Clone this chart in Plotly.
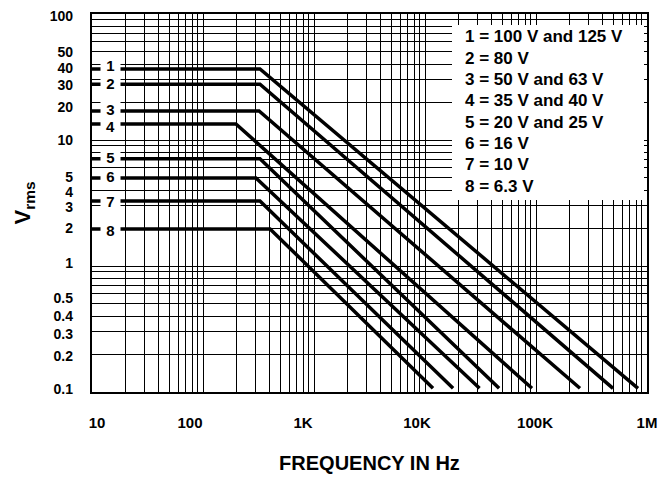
import math
import plotly.graph_objects as go

# ---- data ----
curve_labels = ["1", "2", "3", "4", "5", "6", "7", "8"]
v_flat = [36.6, 27.7, 17.0, 13.4, 7.1, 5.0, 3.28, 1.97]          # Vrms plateau
f_start = [10, 10, 10, 10, 10, 10, 10, 10]                      # Hz
f_corner = [326, 326, 320, 198, 326, 300, 326, 402]             # Hz
f_end = [830e3, 494e3, 249e3, 92e3, 46.5e3, 31e3, 17.9e3, 11.8e3]  # Hz
v_end = [0.107, 0.107, 0.107, 0.107, 0.107, 0.107, 0.107, 0.107]

legend_lines = [
    "1 = 100 V and 125 V",
    "2 = 80 V",
    "3 = 50 V and 63 V",
    "4 = 35 V and 40 V",
    "5 = 20 V and 25 V",
    "6 = 16 V",
    "7 = 10 V",
    "8 = 6.3 V",
]

# tick labels and where the reference prints them
x_label_text = ["10", "100", "1K", "10K", "100K", "1M"]
x_label_pos = [11.1, 76.4, 796, 8470, 98000, 1e6]
y_label_text = ["100", "50", "40", "30", "20", "10", "5", "4", "3", "2",
                "1", "0.5", "0.4", "0.3", "0.2", "0.1"]
y_label_pos = [96, 50, 37.3, 27.3, 18.3, 10, 5.08, 3.86, 2.94, 2.0,
               1.05, 0.56, 0.40, 0.29, 0.194, 0.1056]

# log-paper grid values (1..9 in each decade)
x_decades = [10, 100, 1e3, 1e4, 1e5]
y_decades = [0.1, 1, 10]
x_grid = [d * k for d in x_decades for k in range(1, 10)] + [1e6]
y_grid = [round(d * k, 6) for d in y_decades for k in range(1, 10)] + [100]

FONT = "Liberation Sans, Arial, Helvetica, sans-serif"

# page body has an 8px margin -> figure is shifted; compensate
W, H = 664, 469
ML, MR, MT, MB = 84, 25, 6, 85
PW = W - ML - MR
PH = H - MT - MB

fig = go.Figure()
for i in range(len(curve_labels)):
    fig.add_trace(go.Scatter(
        x=[f_start[i], f_corner[i], f_end[i]],
        y=[v_flat[i], v_flat[i], v_end[i]],
        mode="lines",
        line=dict(color="black", width=3.5),
        hoverinfo="skip",
        showlegend=False,
    ))
# invisible trace to bind the label axes
fig.add_trace(go.Scatter(x=[100], y=[1], xaxis="x2", yaxis="y2", mode="markers",
                         marker=dict(opacity=0), hoverinfo="skip", showlegend=False))


def px_x(px):
    return (px - 92) / PW


def px_y(py):
    return (392 - py) / PH


# white box for the key (covers grid lines)
fig.add_shape(type="rect", xref="paper", yref="paper",
              x0=px_x(452), x1=px_x(644), y0=px_y(200), y1=px_y(25),
              fillcolor="white", line=dict(width=0), layer="above")

label_nudge = [4, 1, 1, -3, 1, 1, 0, -2]   # small vertical nudges (px) as in the reference
annotations = []
for i, lab in enumerate(curve_labels):
    annotations.append(dict(
        x=px_x(110), xref="paper", y=math.log10(v_flat[i]), yref="y",
        yshift=label_nudge[i],
        text="<b>%s</b>" % lab, showarrow=False,
        font=dict(family=FONT, size=15, color="black"),
        bgcolor="white", width=17, height=13, align="center",
        xanchor="center", yanchor="middle",
    ))

y0_px = 37.0
for j, txt in enumerate(legend_lines):
    ypx = y0_px + j * 21.3
    annotations.append(dict(
        x=px_x(463), xref="paper",
        y=px_y(ypx), yref="paper",
        text="<b>%s</b>" % txt, showarrow=False,
        font=dict(family=FONT, size=17, color="black"),
        xanchor="left", yanchor="middle",
    ))

fig.update_layout(
    width=W, height=H,
    margin=dict(l=ML, r=MR, t=MT, b=MB),
    paper_bgcolor="white", plot_bgcolor="white",
    font=dict(family=FONT, color="black"),
    annotations=annotations,
    showlegend=False,
    xaxis=dict(
        type="log", range=[1, 6],
        tickmode="array", tickvals=x_grid, showticklabels=False,
        showgrid=True, gridcolor="black", gridwidth=1,
        showline=True, linecolor="black", linewidth=1.5, mirror=True,
        ticks="", zeroline=False, automargin=False,
    ),
    yaxis=dict(
        type="log", range=[-1, 2],
        tickmode="array", tickvals=y_grid, showticklabels=False,
        showgrid=True, gridcolor="black", gridwidth=1,
        showline=True, linecolor="black", linewidth=1.5, mirror=True,
        ticks="", zeroline=False, automargin=False,
    ),
    xaxis2=dict(
        type="log", range=[1, 6], overlaying="x", side="bottom",
        tickmode="array", tickvals=x_label_pos, ticktext=x_label_text,
        showgrid=False, showline=False, zeroline=False, ticks="",
        ticklabelstandoff=20, automargin=False, ticklabeloverflow="allow",
        tickfont=dict(family=FONT, size=15, color="black", weight="bold"),
        title=dict(text="<b>FREQUENCY IN Hz</b>",
                   font=dict(family=FONT, size=20, color="black"), standoff=25),
    ),
    yaxis2=dict(
        type="log", range=[-1, 2], overlaying="y", side="left",
        tickmode="array", tickvals=y_label_pos, ticktext=y_label_text,
        showgrid=False, showline=False, zeroline=False, ticks="",
        ticklabelstandoff=18, automargin=False, ticklabeloverflow="allow",
        tickfont=dict(family=FONT, size=14, color="black", weight="bold"),
        title=dict(text="<b>V<sub>rms</sub></b>",
                   font=dict(family=FONT, size=22, color="black"), standoff=12),
    ),
)

fig.write_html("out.html")
